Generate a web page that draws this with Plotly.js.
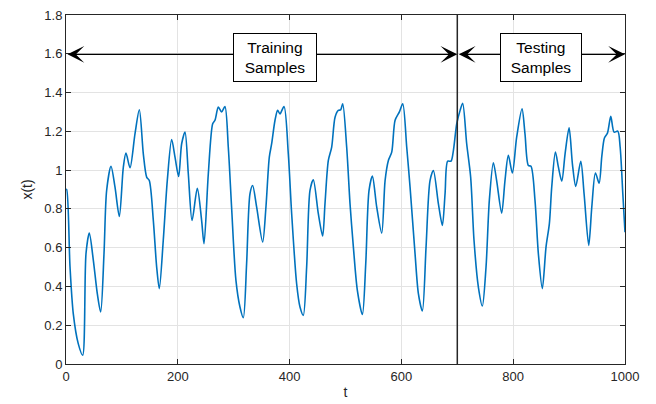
<!DOCTYPE html>
<html><head><meta charset="utf-8">
<script src="https://cdn.plot.ly/plotly-3.0.1.min.js"></script>
<style>html,body{margin:0;padding:0;background:#fff}#chart{width:656px;height:404px}</style>
</head><body><div id="chart"></div>
<script>
const tValues = [0,1.2,7.2,13,21.9,29.8,35.8,41.7,48.9,56,62,68,72.7,80.5,87.6,95.4,102.6,107.3,114.5,123.4,131.2,138.3,144.3,149,156.2,162.2,166.9,174,181.2,189,195,201.5,206.9,212.9,218.8,225.5,234.9,242.6,246.9,254.6,262.4,266.5,272.5,278.3,284.3,290.3,296.2,304,311.2,317.2,323.1,329.1,333.9,341,351.8,357.7,363.7,367.9,373.9,378.6,382.8,390,397.7,403.7,412.6,418.6,424.5,430.5,436.5,442.4,451.4,459.1,463.3,469.3,475.3,481.3,487.2,491.4,495,502.1,508.1,514.1,521.2,530.2,536.2,542.1,548.1,555.8,564.8,570.8,576.7,582.7,588.7,596.4,602.4,609.5,615.5,624.4,630.4,637.5,644.1,651.2,657.2,666.2,673.3,678.1,682.8,688.8,693,699,705,709.6,716.8,723.9,729.9,737.7,744.8,751.4,757.3,764.5,770.4,779.4,785.3,791.3,798.5,806.2,815.8,821.1,827.1,831.8,839,845,852.1,858.7,864.7,868.9,875.5,880.9,886.9,892.8,900,906,911.9,920.9,926.8,935.1,940.6,947.1,953.7,958.5,963.2,968.6,974.6,980.5,987.1,991.3,996.1,1000];
const xValues = [0.9,0.9,0.5,0.26,0.105,0.045,0.57,0.675,0.535,0.363,0.268,0.57,0.895,1.02,0.913,0.761,1.016,1.088,1.012,1.187,1.311,1.084,0.964,0.946,0.741,0.5,0.389,0.638,0.946,1.158,1.067,0.967,1.136,1.196,0.981,0.74,0.906,0.741,0.62,0.981,1.239,1.257,1.325,1.3,1.328,1.119,0.81,0.431,0.294,0.239,0.517,0.878,0.921,0.81,0.629,0.81,1.067,1.136,1.257,1.308,1.29,1.328,1.084,0.775,0.414,0.294,0.251,0.5,0.895,0.95,0.775,0.66,0.826,1.05,1.119,1.273,1.308,1.311,1.342,1.119,0.826,0.603,0.38,0.255,0.517,0.895,0.969,0.81,0.675,0.946,1.05,1.093,1.257,1.3,1.342,1.119,0.912,0.569,0.363,0.273,0.603,0.946,0.998,0.826,0.715,0.878,1.046,1.046,1.101,1.239,1.308,1.345,1.136,0.964,0.638,0.397,0.299,0.5,0.844,1.038,0.946,0.778,0.946,1.076,0.985,1.17,1.316,1.187,1.024,1.02,0.844,0.569,0.389,0.603,0.724,0.912,1.093,1.015,0.943,1.084,1.218,1.03,0.916,1.045,0.878,0.612,0.81,0.985,0.933,1.071,1.166,1.191,1.277,1.196,1.201,1.119,0.878,0.68];
const xTicks = [0,200,400,600,800,1000];
const yTicks = [0,0.2,0.4,0.6,0.8,1,1.2,1.4,1.6,1.8];
const splitT = 700;
const arrowY = 1.597;
const labels = ["Training<br>Samples","Testing<br>Samples"];
const labelT = [373, 850];
const labelY = 1.582;

const axisCommon = {
  showline:true, mirror:'allticks', linecolor:'#262626', linewidth:1,
  ticks:'inside', ticklen:5, tickcolor:'#262626',
  showgrid:true, gridcolor:'#e3e3e3', gridwidth:1, zeroline:false,
  tickfont:{family:'Liberation Sans, Arial, sans-serif', size:13, color:'#262626'}
};
const boxFont = {family:'Liberation Sans, Arial, sans-serif', size:15.5, color:'#000'};
const layout = {
  width:656, height:404,
  margin:{l:66, r:31, t:14.5, b:40.3},
  paper_bgcolor:'#fff', plot_bgcolor:'#fff',
  showlegend:false,
  xaxis: Object.assign({}, axisCommon, {range:[0,1000], tickvals:xTicks, ticktext:xTicks.map(String),
    title:{text:'t', font:{family:'Liberation Sans, Arial, sans-serif', size:14, color:'#262626'}, standoff:4}}),
  yaxis: Object.assign({}, axisCommon, {range:[0,1.8], tickvals:yTicks, ticktext:yTicks.map(String),
    title:{text:'x(t)', font:{family:'Liberation Sans, Arial, sans-serif', size:14, color:'#262626'}, standoff:8}}),
  shapes:[{type:'line', xref:'x', yref:'y', x0:splitT, x1:splitT, y0:0, y1:1.8, line:{color:'#262626', width:1.5}}],
  annotations:[
    {xref:'x', yref:'y', axref:'x', ayref:'y', x:splitT, y:arrowY, ax:0, ay:arrowY, text:'', showarrow:true,
      arrowside:'end+start', arrowhead:3, arrowsize:2, arrowwidth:1.4, arrowcolor:'#000'},
    {xref:'x', yref:'y', axref:'x', ayref:'y', x:1000, y:arrowY, ax:splitT, ay:arrowY, text:'', showarrow:true,
      arrowside:'end+start', arrowhead:3, arrowsize:2, arrowwidth:1.4, arrowcolor:'#000'},
    {xref:'x', yref:'y', x:labelT[0], y:labelY, text:labels[0], showarrow:false, bgcolor:'#fff', bordercolor:'#000', borderwidth:1, borderpad:3,
      width:76, height:41, font:boxFont},
    {xref:'x', yref:'y', x:labelT[1], y:labelY, text:labels[1], showarrow:false, bgcolor:'#fff', bordercolor:'#000', borderwidth:1, borderpad:3,
      width:74, height:41, font:boxFont}
  ]
};
const trace = {x:tValues, y:xValues, type:'scatter', mode:'lines', line:{color:'#0072BD', width:1.6, shape:'spline', smoothing:0.8}, hoverinfo:'skip'};
Plotly.newPlot('chart', [trace], layout, {displayModeBar:false, staticPlot:true});
</script></body></html>
